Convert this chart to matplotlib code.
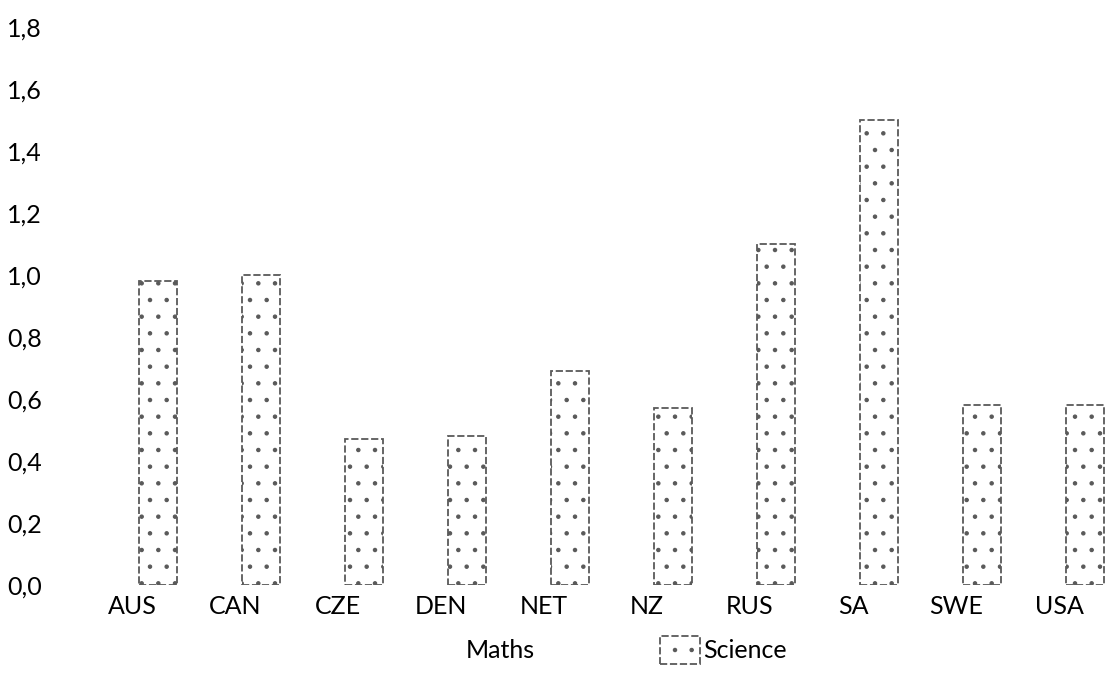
import numpy as np
import matplotlib
matplotlib.use("Agg")
import matplotlib.pyplot as plt

# data
countries = ['AUS', 'CAN', 'CZE', 'DEN', 'NET', 'NZ', 'RUS', 'SA', 'SWE', 'USA']
maths = [0, 0, 0, 0, 0, 0, 0, 0, 0, 0]
science = [0.98, 1.0, 0.47, 0.48, 0.69, 0.57, 1.1, 1.5, 0.58, 0.58]
yticks = [0.0, 0.2, 0.4, 0.6, 0.8, 1.0, 1.2, 1.4, 1.6, 1.8]

plt.rcParams['font.family'] = ['Lato', 'DejaVu Sans']
plt.rcParams['hatch.linewidth'] = 0.8

fig = plt.figure(figsize=(11.19, 6.75), dpi=100)
ax = fig.add_axes([0.072, 0.133, 0.925, 0.867])

x = np.arange(len(countries))
w = 0.37
ax.bar(x - 0.18, maths, w, facecolor='none', edgecolor='none', label='Maths')
ax.bar(x + 0.25, science, w, facecolor='white', edgecolor='0.35',
       hatch='.', linestyle=(0, (4, 1.5)), linewidth=1.3, label='Science')

ax.set_xlim(-0.5, 9.55)
ax.set_ylim(0, 1.887)
ax.set_xticks(x)
ax.set_xticklabels(countries, fontsize=18)
ax.set_yticks(yticks)
ax.set_yticklabels([('%.1f' % v).replace('.', ',') for v in yticks], fontsize=18)
ax.tick_params(length=0)
ax.tick_params(axis='y', pad=28)
ax.tick_params(axis='x', pad=7)
for s in ax.spines.values():
    s.set_visible(False)

fig.legend(loc='center', bbox_to_anchor=(0.54, 0.037), ncol=2, frameon=False,
           fontsize=18, handlelength=1.6, handleheight=1.4, columnspacing=5.0,
           handletextpad=0.15)

fig.savefig('out.png', dpi=100)
